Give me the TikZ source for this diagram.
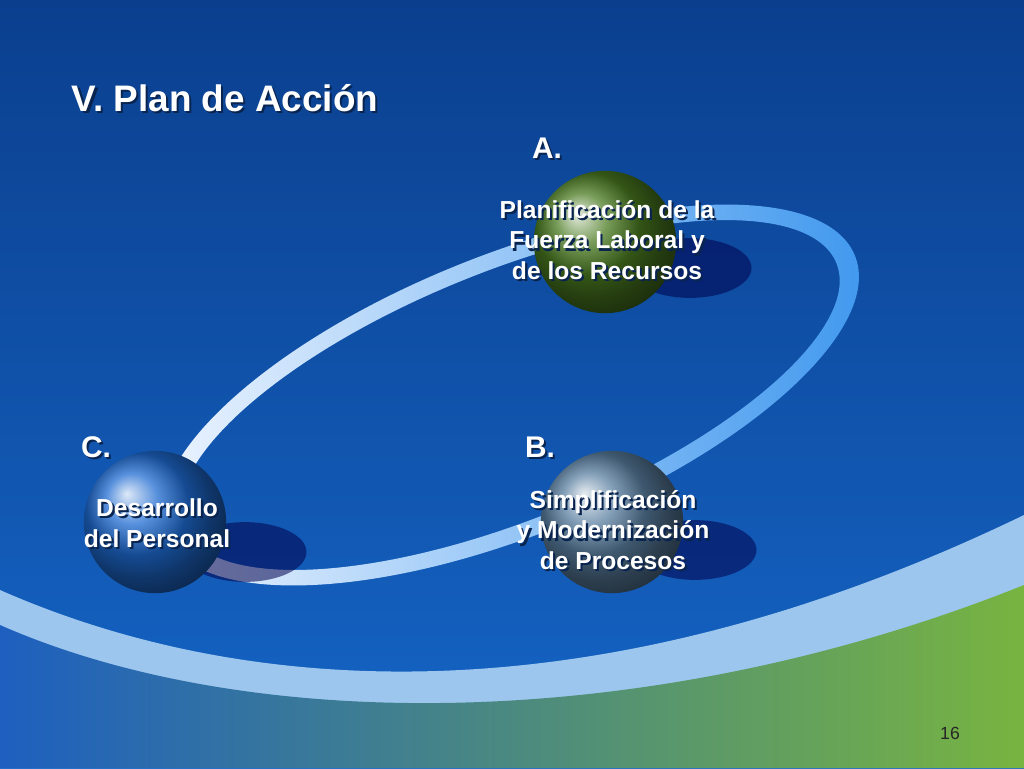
\documentclass[tikz,border=0pt]{standalone}
\usepackage{fontspec}
\setmainfont{Liberation Sans}
\usetikzlibrary{shapes.geometric}
\definecolor{bgtop}{HTML}{0B3F8E}
\definecolor{bgbot}{HTML}{1565C6}
\definecolor{ringlt}{HTML}{F2F7FF}
\definecolor{ringbl}{HTML}{3C96EE}
\definecolor{bandlt}{HTML}{9CC6EE}
\definecolor{grn}{HTML}{78B440}
\definecolor{blu}{HTML}{1E5FC0}
\definecolor{txtsh}{HTML}{0A2450}
\definecolor{ballB}{HTML}{5A7FA0}
\definecolor{ballC}{HTML}{1E6AD0}
\definecolor{ballA}{HTML}{4A7A20}
\tikzset{
  lbl/.style={font=\bfseries\fontsize{14}{17.5}\selectfont, text=white, align=center},
  big/.style={font=\bfseries\fontsize{17}{20}\selectfont, text=white},
  ttl/.style={font=\bfseries\fontsize{21}{24}\selectfont, text=white},
  shd/.style={text=txtsh},
  ball/.style={circle, minimum size=81pt, inner sep=0pt},
  shadow/.style={ellipse, fill=black!70!blue, opacity=0.55, minimum width=70pt, minimum height=34pt, inner sep=0pt}
}
\newcommand{\stxt}[4]{\node[#1,shd,xshift=1.2pt,yshift=-1.2pt] at #2 {#4};\node[#1] (#3) at #2 {#4};}
\begin{document}
\begin{tikzpicture}[x=0.02cm,y=-0.02cm]
\useasboundingbox (0,0) rectangle (1024,768);
\shade[top color=bgtop,bottom color=bgbot] (0,0) rectangle (1024,768);
% bottom band
\fill[bandlt] (0,590) .. controls (250,700) and (600,720) .. (1024,515) -- (1024,768) -- (0,768) -- cycle;
\shade[left color=blu,right color=grn] (0,625) .. controls (250,735) and (650,735) .. (1024,585) -- (1024,768) -- (0,768) -- cycle;
% ring
\begin{scope}[shift={(510,395)},rotate=22]
\shade[left color=ringlt,right color=ringbl,even odd rule]
  (0,0) ellipse [x radius=372, y radius=140] (0,0) ellipse [x radius=352, y radius=124];
\end{scope}
% shadows
\node[shadow] at (690,268) {};
\node[shadow] at (695,550) {};
\node[shadow] at (245,552) {};
% balls
\node[ball, ball color=ballA] (A) at (605,242) {};
\node[ball, ball color=ballB] (B) at (612,522) {};
\node[ball, ball color=ballC] (C) at (155,522) {};
% texts
\stxt{ttl}{(225,98)}{title}{V. Plan de Acción}
\stxt{big}{(547,148)}{la}{A.}
\stxt{big}{(540,447)}{lb}{B.}
\stxt{big}{(96,447)}{lc}{C.}
\stxt{lbl}{(607,240)}{ta}{Planificación de la\\Fuerza Laboral y\\de los Recursos}
\stxt{lbl}{(613,530)}{tb}{Simplificación\\y Modernización\\de Procesos}
\stxt{lbl}{(157,523)}{tc}{Desarrollo\\del Personal}
\node[font=\fontsize{10}{12}\selectfont, text=black!85] (pg) at (950,733) {16};
\end{tikzpicture}
\end{document}
